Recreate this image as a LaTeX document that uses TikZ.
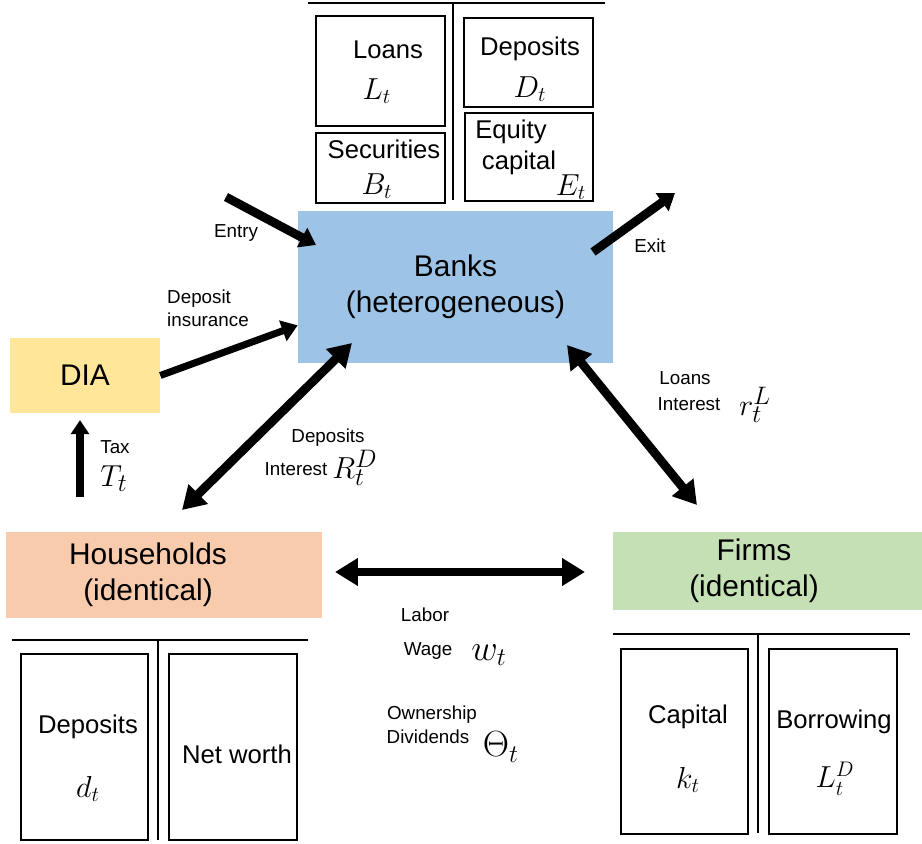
\documentclass[tikz,border=0pt]{standalone}
\usepackage{fontspec}
\setmainfont{Liberation Sans}
\usetikzlibrary{arrows.meta,calc}
\definecolor{bankblue}{HTML}{9DC3E6}
\definecolor{diayellow}{HTML}{FFE699}
\definecolor{hhpeach}{HTML}{F8CBAD}
\definecolor{firmgreen}{HTML}{C5E0B4}
\tikzset{
  sector/.style={inner sep=0pt,align=center,font=\fontsize{17}{20.5}\selectfont},
  item/.style={inner sep=0pt,font=\fontsize{14.6}{16}\selectfont},
  var/.style={inner sep=0pt,font=\fontsize{17}{18}\selectfont},
  bigvar/.style={inner sep=0pt,font=\fontsize{19}{20}\selectfont},
  tag/.style={inner sep=0pt,align=left,font=\fontsize{10.7}{13}\selectfont},
  sheet/.style={line width=0.8pt},
  flow/.style={line width=5pt,-{Triangle[length=13pt,width=15pt]}},
  twoway/.style={line width=5pt,{Triangle[length=13pt,width=15pt]}-{Triangle[length=13pt,width=15pt]}},
}
\begin{document}
\begin{tikzpicture}[x=0.02cm,y=-0.02cm]
\useasboundingbox (0,0) rectangle (922,844);

% sectors
\node[sector,fill=bankblue,minimum width=6.3cm,minimum height=3.04cm] (banks) at (455.5,287) {Banks\\(heterogeneous)};
\node[sector,fill=diayellow,minimum width=3cm,minimum height=1.5cm] (dia) at (85,375.5) {DIA};
\node[sector,fill=hhpeach,minimum width=6.32cm,minimum height=1.72cm] (hh) at (164,575) {};
\node[sector] (hhtext) at (148,575) {Households\\(identical)};
\node[sector,fill=firmgreen,minimum width=6.18cm,minimum height=1.56cm] (firms) at (767.5,571) {};
\node[sector] (firmstext) at (754,571) {Firms\\(identical)};

% bank balance sheet
\draw[sheet] (308,3) -- (605,3) (453,3) -- (453,200);
\draw[sheet] (316,16) rectangle (445,126) (316,133) rectangle (445,203);
\draw[sheet] (464,18) rectangle (593,107) (465,113) rectangle (593,201);
\node[item] (loans) at (388,50) {Loans};
\node[var] (lt) at (377,91) {$L_t$};
\node[item] (secs) at (384,149) {Securities};
\node[var] (bt) at (377,186) {$B_t$};
\node[item] (deps) at (530,49) {Deposits};
\node[var] (dt) at (530,89) {$D_t$};
\node[item] (eq1) at (511,132) {Equity};
\node[item] (eq2) at (519,163) {capital};
\node[var] (et) at (571,187) {$E_t$};

% household balance sheet
\draw[sheet] (12,640) -- (308,640) (158,640) -- (158,840);
\draw[sheet] (21,654) rectangle (148,840) (169,654) rectangle (297,840);
\node[item] (hhdep) at (88,727) {Deposits};
\node[var] (hhd) at (88,789) {$d_t$};
\node[item] (hhnw) at (237,754) {Net worth};

% firm balance sheet
\draw[sheet] (613,634) -- (910,634) (758,634) -- (758,833);
\draw[sheet] (621,649) rectangle (748,834) (769,649) rectangle (897,834);
\node[item] (fcap) at (688,717) {Capital};
\node[var] (fk) at (688,780) {$k_t$};
\node[item] (fbor) at (834,722) {Borrowing};
\node[var] (fl) at (835,779) {$L_t^D$};

% flows
\coordinate (entryin) at (226,197);
\coordinate (entryend) at (316,245);
\coordinate (exitstart) at (593,252);
\coordinate (exitout) at (675,193);
\draw[flow,-{Triangle[length=9pt,width=12pt]}] (entryin) -- (entryend);
\draw[flow,-{Triangle[length=9pt,width=12pt]}] (exitstart) -- (exitout);
\node[tag] (entry) at (236,233) {Entry};
\node[tag] (exit) at (650,246) {Exit};

\draw[flow,line width=4pt,-{Triangle[length=9pt,width=12pt]}] (dia.east) -- ($(banks.south west)+(0,-38)$);
\node[tag] (insur) at (208,308) {Deposit\\insurance};

\coordinate (taxlow) at (80,497);
\draw[flow,line width=4.5pt,-{Triangle[length=8pt,width=10pt]}] (taxlow) -- (80,420);
\node[tag] (tax) at (115,447) {Tax};
\node[bigvar] (taxT) at (114,479) {$T_t$};

\coordinate (hhtop) at (182,510);
\coordinate (bankslow) at (352,343);
\draw[twoway] (hhtop) -- (bankslow);
\node[tag] (depflow) at (328,438) {Deposits};
\node[tag] (depint) at (296,469) {Interest};
\node[bigvar] (rd) at (355,468) {$R_t^D$};

\coordinate (banksright) at (567,345);
\coordinate (firmstop) at (697,505);
\draw[twoway] (banksright) -- (firmstop);
\node[tag] (loanflow) at (685,378) {Loans};
\node[tag] (loanint) at (689,404) {Interest};
\node[bigvar] (rl) at (755,405) {$r_t^L$};

\coordinate (hhright) at (335,572);
\coordinate (firmsleft) at (585,572);
\draw[twoway,line width=4pt] (hhright) -- (firmsleft);
\node[tag] (labor) at (425,615) {Labor};
\node[tag] (wage) at (428,651) {Wage};
\node[bigvar,font=\fontsize{20}{20}\selectfont] (wt) at (489,655) {$w_t$};
\node[tag] (own) at (432,715) {Ownership};
\node[tag] (divs) at (428,737) {Dividends};
\node[bigvar,font=\fontsize{20}{20}\selectfont] (theta) at (501,747) {$\Theta_t$};
\end{tikzpicture}
\end{document}
